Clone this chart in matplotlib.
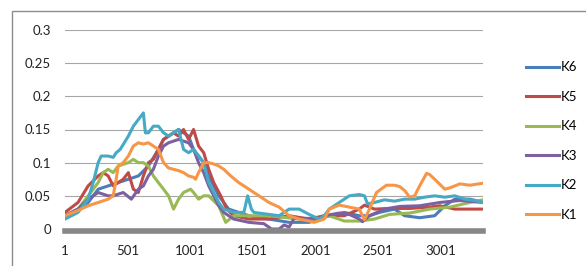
import matplotlib
matplotlib.use("Agg")
import matplotlib.pyplot as plt
from matplotlib.patches import Rectangle

plt.rcParams['font.family'] = ['Lato', 'DejaVu Sans']

# series (index, value)
k6_x = [1, 105, 186, 266, 346, 426, 507, 587, 667, 747, 788, 828, 868, 908, 948, 988, 1028, 1068,
        1109, 1149, 1189, 1229, 1269, 1309, 1389, 1470, 1630, 1791, 1951, 2031, 2112, 2232, 2352,
        2433, 2513, 2633, 2714, 2834, 2954, 3035, 3115, 3235, 3340]
k6_y = [0.02, 0.03, 0.04, 0.06, 0.065, 0.07, 0.075, 0.08, 0.095, 0.12, 0.135, 0.14, 0.145, 0.15,
        0.145, 0.14, 0.12, 0.11, 0.1, 0.08, 0.065, 0.05, 0.04, 0.03, 0.025, 0.02, 0.015, 0.01, 0.01,
        0.015, 0.02, 0.025, 0.02, 0.02, 0.025, 0.03, 0.02, 0.017, 0.02, 0.035, 0.045, 0.045, 0.04]

k5_x = [1, 105, 186, 266, 306, 346, 386, 466, 507, 547, 587, 627, 667, 707, 747, 788, 828, 868, 908,
        948, 988, 1028, 1068, 1109, 1149, 1189, 1245, 1293, 1349, 1470, 1630, 1791, 1951, 2072, 2232,
        2352, 2393, 2473, 2593, 2754, 2914, 2995, 3115, 3340]
k5_y = [0.025, 0.04, 0.065, 0.08, 0.085, 0.08, 0.065, 0.075, 0.085, 0.06, 0.055, 0.08, 0.1, 0.105,
        0.12, 0.135, 0.14, 0.145, 0.14, 0.15, 0.135, 0.15, 0.125, 0.115, 0.09, 0.07, 0.05, 0.03, 0.02,
        0.015, 0.015, 0.02, 0.015, 0.02, 0.02, 0.03, 0.036, 0.03, 0.031, 0.031, 0.033, 0.035, 0.03, 0.03]

k4_x = [1, 105, 186, 266, 306, 346, 386, 426, 507, 547, 587, 627, 667, 707, 747, 788, 828, 868, 908,
        948, 1004, 1028, 1068, 1109, 1149, 1229, 1285, 1349, 1470, 1630, 1871, 2031, 2112, 2232, 2352,
        2473, 2593, 2754, 2914, 3075, 3235, 3340]
k4_y = [0.02, 0.03, 0.05, 0.07, 0.085, 0.09, 0.085, 0.095, 0.1, 0.105, 0.1, 0.1, 0.095, 0.08, 0.07,
        0.06, 0.05, 0.03, 0.045, 0.055, 0.06, 0.055, 0.045, 0.05, 0.05, 0.035, 0.01, 0.02, 0.02, 0.02,
        0.015, 0.015, 0.02, 0.012, 0.012, 0.015, 0.022, 0.024, 0.03, 0.033, 0.04, 0.044]

k3_x = [1, 105, 186, 266, 346, 386, 466, 531, 587, 627, 667, 707, 747, 788, 828, 908, 988, 1028, 1068,
        1109, 1149, 1189, 1229, 1269, 1349, 1470, 1590, 1650, 1711, 1751, 1791, 1831, 1951, 2031, 2072,
        2192, 2272, 2352, 2377, 2433, 2553, 2674, 2834, 2995, 3155, 3340]
k3_y = [0.02, 0.03, 0.045, 0.055, 0.05, 0.05, 0.055, 0.045, 0.06, 0.065, 0.08, 0.09, 0.11, 0.125,
        0.13, 0.135, 0.13, 0.12, 0.1, 0.085, 0.065, 0.05, 0.035, 0.025, 0.015, 0.01, 0.008, 0.0, 0.0,
        0.006, 0.003, 0.016, 0.016, 0.016, 0.02, 0.024, 0.022, 0.015, 0.011, 0.02, 0.03, 0.034, 0.035,
        0.04, 0.043, 0.04]

k2_x = [1, 105, 186, 226, 266, 290, 346, 386, 410, 442, 507, 547, 587, 627, 643, 667, 707, 747, 788,
        828, 868, 908, 948, 988, 1028, 1068, 1109, 1149, 1189, 1229, 1269, 1349, 1430, 1460, 1490,
        1510, 1630, 1711, 1791, 1871, 1951, 2031, 2072, 2112, 2192, 2272, 2352, 2393, 2417, 2473,
        2553, 2633, 2714, 2794, 2874, 2954, 3035, 3115, 3195, 3275, 3340]
k2_y = [0.015, 0.025, 0.045, 0.07, 0.1, 0.11, 0.11, 0.108, 0.115, 0.12, 0.14, 0.155, 0.165, 0.175,
        0.145, 0.145, 0.155, 0.155, 0.145, 0.14, 0.145, 0.15, 0.12, 0.115, 0.12, 0.11, 0.1, 0.07,
        0.055, 0.04, 0.03, 0.025, 0.025, 0.05, 0.03, 0.025, 0.022, 0.02, 0.03, 0.03, 0.022, 0.015,
        0.02, 0.03, 0.04, 0.05, 0.052, 0.05, 0.038, 0.04, 0.044, 0.042, 0.045, 0.045, 0.048, 0.05,
        0.048, 0.05, 0.045, 0.043, 0.04]

k1_x = [1, 105, 186, 266, 346, 386, 410, 426, 466, 507, 547, 587, 627, 667, 707, 747, 788, 828, 868,
        908, 948, 988, 1028, 1044, 1068, 1109, 1149, 1189, 1229, 1269, 1325, 1389, 1470, 1550, 1630,
        1711, 1791, 1871, 1951, 1991, 2072, 2112, 2192, 2272, 2352, 2393, 2433, 2489, 2569, 2633,
        2674, 2714, 2754, 2794, 2834, 2890, 2914, 2954, 3035, 3075, 3115, 3155, 3235, 3340]
k1_y = [0.02, 0.028, 0.035, 0.04, 0.045, 0.05, 0.075, 0.095, 0.1, 0.11, 0.125, 0.13, 0.128, 0.13,
        0.125, 0.12, 0.1, 0.092, 0.09, 0.088, 0.085, 0.08, 0.078, 0.075, 0.085, 0.1, 0.1, 0.098, 0.095,
        0.09, 0.08, 0.07, 0.06, 0.05, 0.04, 0.033, 0.02, 0.015, 0.012, 0.01, 0.015, 0.03, 0.036,
        0.033, 0.03, 0.014, 0.03, 0.055, 0.066, 0.066, 0.064, 0.058, 0.048, 0.05, 0.065, 0.084,
        0.082, 0.075, 0.06, 0.062, 0.065, 0.068, 0.066, 0.069]

series = [
    ("K6", k6_x, k6_y, "#4A7EBB"),
    ("K5", k5_x, k5_y, "#BE4B48"),
    ("K4", k4_x, k4_y, "#98B954"),
    ("K3", k3_x, k3_y, "#7D60A0"),
    ("K2", k2_x, k2_y, "#46AAC5"),
    ("K1", k1_x, k1_y, "#F79646"),
]

x_ticks = [1, 501, 1001, 1501, 2001, 2501, 3001]
y_ticks = [0, 0.05, 0.1, 0.15, 0.2, 0.25, 0.3]

fig = plt.figure(figsize=(5.86, 2.66), dpi=100)
# chart frame (cropped at right and bottom)
fig.patches.append(Rectangle((12 / 586, -0.1), 1.2, 0.1 + 255 / 266, transform=fig.transFigure,
                             fill=False, edgecolor="#8C8C8C", lw=1.0))

ax = fig.add_axes([65 / 586, 37 / 266, (483 - 65) / 586, 199 / 266])
for name, xs, ys, col in series:
    ax.plot(xs, ys, color=col, lw=2.2, label=name, solid_joinstyle="round")

ax.set_xlim(1, 3340)
ax.set_ylim(0, 0.3)
ax.set_xticks(x_ticks)
ax.set_xticklabels([str(t) for t in x_ticks])
ax.set_yticks(y_ticks)
ax.set_yticklabels(["0", "0.05", "0.1", "0.15", "0.2", "0.25", "0.3"])
ax.grid(axis="y", color="#A6A6A6", lw=0.8)
ax.set_axisbelow(True)
for s in ["top", "right", "left"]:
    ax.spines[s].set_visible(False)
ax.spines["bottom"].set_color("#868686")
ax.spines["bottom"].set_linewidth(4)
ax.spines["bottom"].set_position(("outward", 1.6))
ax.tick_params(axis="x", length=0, pad=10, labelsize=9.5, colors="#222222")
ax.tick_params(axis="y", length=0, pad=10, labelsize=9.5, colors="#222222")

handles, labels = ax.get_legend_handles_labels()
fig.legend(handles, labels, loc="upper left", bbox_to_anchor=(521 / 586, 1 - 56 / 266),
           frameon=False, fontsize=9.5, handlelength=2.5, handletextpad=0.15, labelspacing=1.33,
           borderaxespad=0)

fig.savefig("out.png", dpi=100)
